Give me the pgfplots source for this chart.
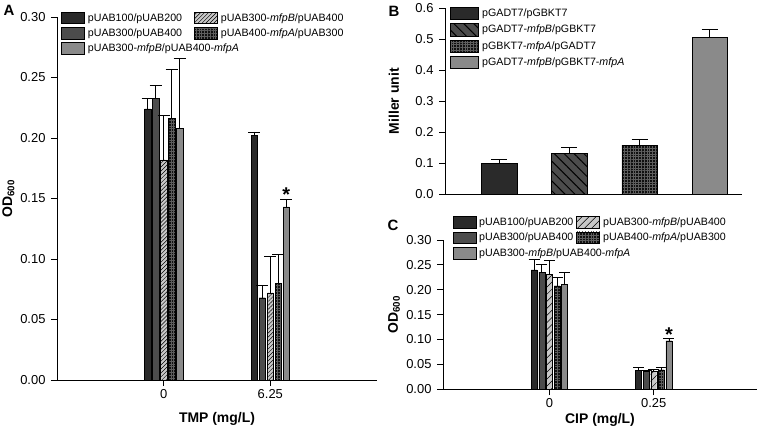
\documentclass[border=0pt]{standalone}
\usepackage{pgfplots}
\pgfplotsset{compat=1.18}
\usepackage{fontspec}
\setmainfont{Liberation Sans}
\usetikzlibrary{patterns,patterns.meta}

\definecolor{cA}{HTML}{2A2A2A}
\definecolor{cB}{HTML}{4C4C4C}
\definecolor{cC}{HTML}{C8C8C8}
\definecolor{cD}{HTML}{101010}
\definecolor{cE}{HTML}{8A8A8A}
\definecolor{gridc}{HTML}{5E5E5E}

\tikzset{
  s1/.style={fill=cA, draw=black},
  s2/.style={fill=cB, draw=black},
  s3/.style={fill=cC, draw=black, postaction={pattern color=black, pattern={Lines[angle=45,distance=2.8bp,line width=0.45bp]}}},
  s3c/.style={fill=cC, draw=black, postaction={pattern color=black, pattern={Lines[angle=45,distance=5bp,line width=0.5bp]}}},
  s4/.style={fill=cD, draw=black, postaction={pattern color=gridc, pattern={Hatch[angle=0,distance=2.8bp,line width=0.45bp]}}},
  s5/.style={fill=cE, draw=black},
  b2/.style={fill=cB, draw=black, postaction={pattern color=black, pattern={Lines[angle=-45,distance=7bp,line width=1bp]}}},
}

\newcommand{\lblfont}{\bfseries\fontsize{14}{16}\selectfont}

\pgfplotsset{
  panel/.style={
    scale only axis, clip=false, enlargelimits=false,
    axis x line=bottom, axis y line=left,
    axis line style={-, line width=0.9bp},
    tick align=outside, major tick length=6bp,
    every tick/.style={black, line width=0.9bp},
    every tick label/.append style={font=\fontsize{13}{15}\selectfont},
    every y tick label/.append style={xshift=-2bp},
    /pgf/number format/assume math mode=true,
    legend cell align=left,
    legend style={draw=none, fill=none, font=\fontsize{10.7}{12}\selectfont,
      inner sep=0pt, row sep=3bp, nodes={inner xsep=3bp, inner ysep=1bp}},
  },
  err/.style={
    /pgfplots/error bars/y dir=plus,
    /pgfplots/error bars/y explicit,
    /pgfplots/error bars/error bar style={line width=0.9bp, black},
    /pgfplots/error bars/error mark options={rotate=90, line width=0.9bp, black, mark size=#1},
  },
}

\begin{document}
\begin{tikzpicture}[x=1bp,y=1bp]
\path[use as bounding box] (0,0) rectangle (760,431);

% ---------------- Panel A ----------------
\begin{axis}[panel,
  at={(57bp,51bp)}, anchor=south west,
  width=320bp, height=363bp,
  xmin=-1, xmax=2, ymin=0, ymax=0.30,
  xtick={0,1}, xticklabels={0,6.25},
  ytick={0,0.05,0.1,0.15,0.2,0.25,0.3},
  yticklabel style={/pgf/number format/.cd, fixed, fixed zerofill, precision=2},
  every axis x label/.style={at={(axis description cs:0.5,-0.1074)}, anchor=center, font=\lblfont},
  every axis y label/.style={at={(axis description cs:-0.1516,0.5)}, rotate=90, anchor=center, font=\lblfont},
  xlabel={TMP (mg/L)}, ylabel={OD\textsubscript{600}},
  legend columns=2,
  legend style={at={(axis description cs:0.0125,1.0146)}, anchor=north west,
    /tikz/every even column/.append style={column sep=9bp}},
  legend image code/.code={\draw[#1, line width=0.7bp] (0bp,-5.8bp) rectangle (23bp,5.8bp);},
]
\addplot[ybar, bar width=6.3bp, bar shift=0bp, s1, forget plot, err=6bp]
  table[x=x, y=y, y error=e, row sep=\\]{x y e\\ -0.15 0.224 0.009\\ 0.85 0.202 0.003\\};
\addplot[ybar, bar width=6.3bp, bar shift=0bp, s2, forget plot, err=6bp]
  table[x=x, y=y, y error=e, row sep=\\]{x y e\\ -0.075 0.2325 0.011\\ 0.925 0.068 0.010\\};
\addplot[ybar, bar width=6.3bp, bar shift=0bp, s3, forget plot, err=6bp]
  table[x=x, y=y, y error=e, row sep=\\]{x y e\\ 0 0.182 0.037\\ 1 0.072 0.030\\};
\addplot[ybar, bar width=6.3bp, bar shift=0bp, s4, forget plot, err=6bp]
  table[x=x, y=y, y error=e, row sep=\\]{x y e\\ 0.075 0.216 0.041\\ 1.075 0.080 0.024\\};
\addplot[ybar, bar width=6.3bp, bar shift=0bp, s5, forget plot, err=6bp]
  table[x=x, y=y, y error=e, row sep=\\]{x y e\\ 0.15 0.208 0.058\\ 1.15 0.143 0.006\\};
\addlegendimage{s1}\addlegendentry{pUAB100/pUAB200}
\addlegendimage{s3}\addlegendentry{pUAB300-\textit{mfpB}/pUAB400}
\addlegendimage{s2}\addlegendentry{pUAB300/pUAB400}
\addlegendimage{s4}\addlegendentry{pUAB400-\textit{mfpA}/pUAB300}
\addlegendimage{s5}\addlegendentry{\makebox[0pt][l]{pUAB300-\textit{mfpB}/pUAB400-\textit{mfpA}}}
\node[anchor=base, font=\bfseries\fontsize{20}{22}\selectfont] at (axis cs:1.15,0.1475) {*};
\end{axis}

% ---------------- Panel B ----------------
\begin{axis}[panel,
  at={(445bp,236.7bp)}, anchor=south west,
  width=297bp, height=186.3bp,
  xmin=-0.77, xmax=3.46, ymin=0, ymax=0.6,
  xtick=\empty,
  ytick={0,0.1,0.2,0.3,0.4,0.5,0.6},
  yticklabel style={/pgf/number format/.cd, fixed, fixed zerofill, precision=1},
  every axis y label/.style={at={(axis description cs:-0.1717,0.5)}, rotate=90, anchor=center, font=\lblfont},
  ylabel={Miller unit},
  legend columns=1,
  legend style={at={(axis description cs:0.0178,1.0072)}, anchor=north west, row sep=3.3bp},
  legend image code/.code={\draw[#1, line width=0.7bp] (0bp,-6.2bp) rectangle (28bp,6.2bp);},
]
\addplot[ybar, bar width=35.5bp, bar shift=0bp, s1, err=8bp]
  table[x=x, y=y, y error=e, row sep=\\]{x y e\\ 0 0.101 0.012\\};
\addlegendentry{pGADT7/pGBKT7}
\addplot[ybar, bar width=35.5bp, bar shift=0bp, b2, err=8bp]
  table[x=x, y=y, y error=e, row sep=\\]{x y e\\ 1 0.132 0.020\\};
\addlegendentry{pGADT7-\textit{mfpB}/pGBKT7}
\addplot[ybar, bar width=35.5bp, bar shift=0bp, s4, err=8bp]
  table[x=x, y=y, y error=e, row sep=\\]{x y e\\ 2 0.158 0.018\\};
\addlegendentry{pGBKT7-\textit{mfpA}/pGADT7}
\addplot[ybar, bar width=35.5bp, bar shift=0bp, s5, err=8bp]
  table[x=x, y=y, y error=e, row sep=\\]{x y e\\ 3 0.505 0.026\\};
\addlegendentry{pGADT7-\textit{mfpB}/pGBKT7-\textit{mfpA}}
\end{axis}

% ---------------- Panel C ----------------
\begin{axis}[panel,
  at={(443bp,41.7bp)}, anchor=south west,
  width=314bp, height=149.3bp,
  xmin=-1.02, xmax=1.99, ymin=0, ymax=0.30,
  xtick={0,1}, xticklabels={0,0.25},
  ytick={0,0.05,0.1,0.15,0.2,0.25,0.3},
  yticklabel style={/pgf/number format/.cd, fixed, fixed zerofill, precision=2},
  every axis x label/.style={at={(axis description cs:0.5,-0.2076)}, anchor=center, font=\lblfont},
  every axis y label/.style={at={(axis description cs:-0.156,0.5)}, rotate=90, anchor=center, font=\lblfont},
  xlabel={CIP (mg/L)}, ylabel={OD\textsubscript{600}},
  legend columns=2,
  legend style={at={(axis description cs:0.0296,1.16)}, anchor=north west,
    /tikz/every even column/.append style={column sep=0bp}},
  legend image code/.code={\draw[#1, line width=0.7bp] (0bp,-5.8bp) rectangle (23bp,5.8bp);},
]
\addplot[ybar, bar width=6bp, bar shift=0bp, s1, forget plot, err=5.5bp]
  table[x=x, y=y, y error=e, row sep=\\]{x y e\\ -0.146 0.240 0.020\\ 0.854 0.038 0.006\\};
\addplot[ybar, bar width=6bp, bar shift=0bp, s2, forget plot, err=5.5bp]
  table[x=x, y=y, y error=e, row sep=\\]{x y e\\ -0.073 0.2355 0.0145\\ 0.927 0.037 0.001\\};
\addplot[ybar, bar width=6bp, bar shift=0bp, s3c, forget plot, err=5.5bp]
  table[x=x, y=y, y error=e, row sep=\\]{x y e\\ 0 0.231 0.028\\ 1 0.037 0.003\\};
\addplot[ybar, bar width=6bp, bar shift=0bp, s4, forget plot, err=5.5bp]
  table[x=x, y=y, y error=e, row sep=\\]{x y e\\ 0.073 0.208 0.017\\ 1.073 0.039 0.004\\};
\addplot[ybar, bar width=6bp, bar shift=0bp, s5, forget plot, err=5.5bp]
  table[x=x, y=y, y error=e, row sep=\\]{x y e\\ 0.146 0.211 0.024\\ 1.146 0.0976 0.005\\};
\addlegendimage{s1}\addlegendentry{pUAB100/pUAB200}
\addlegendimage{s3c}\addlegendentry{pUAB300-\textit{mfpB}/pUAB400}
\addlegendimage{s2}\addlegendentry{pUAB300/pUAB400}
\addlegendimage{s4}\addlegendentry{pUAB400-\textit{mfpA}/pUAB300}
\addlegendimage{s5}\addlegendentry{\makebox[0pt][l]{pUAB300-\textit{mfpB}/pUAB400-\textit{mfpA}}}
\node[anchor=base, font=\bfseries\fontsize{20}{22}\selectfont] at (axis cs:1.146,0.096) {*};
\end{axis}

\node[font=\bfseries\fontsize{15}{18}\selectfont] at (9,421) {A};
\node[font=\bfseries\fontsize{15}{18}\selectfont] at (394,420) {B};
\node[font=\bfseries\fontsize{15}{18}\selectfont] at (393,206) {C};
\end{tikzpicture}
\end{document}
